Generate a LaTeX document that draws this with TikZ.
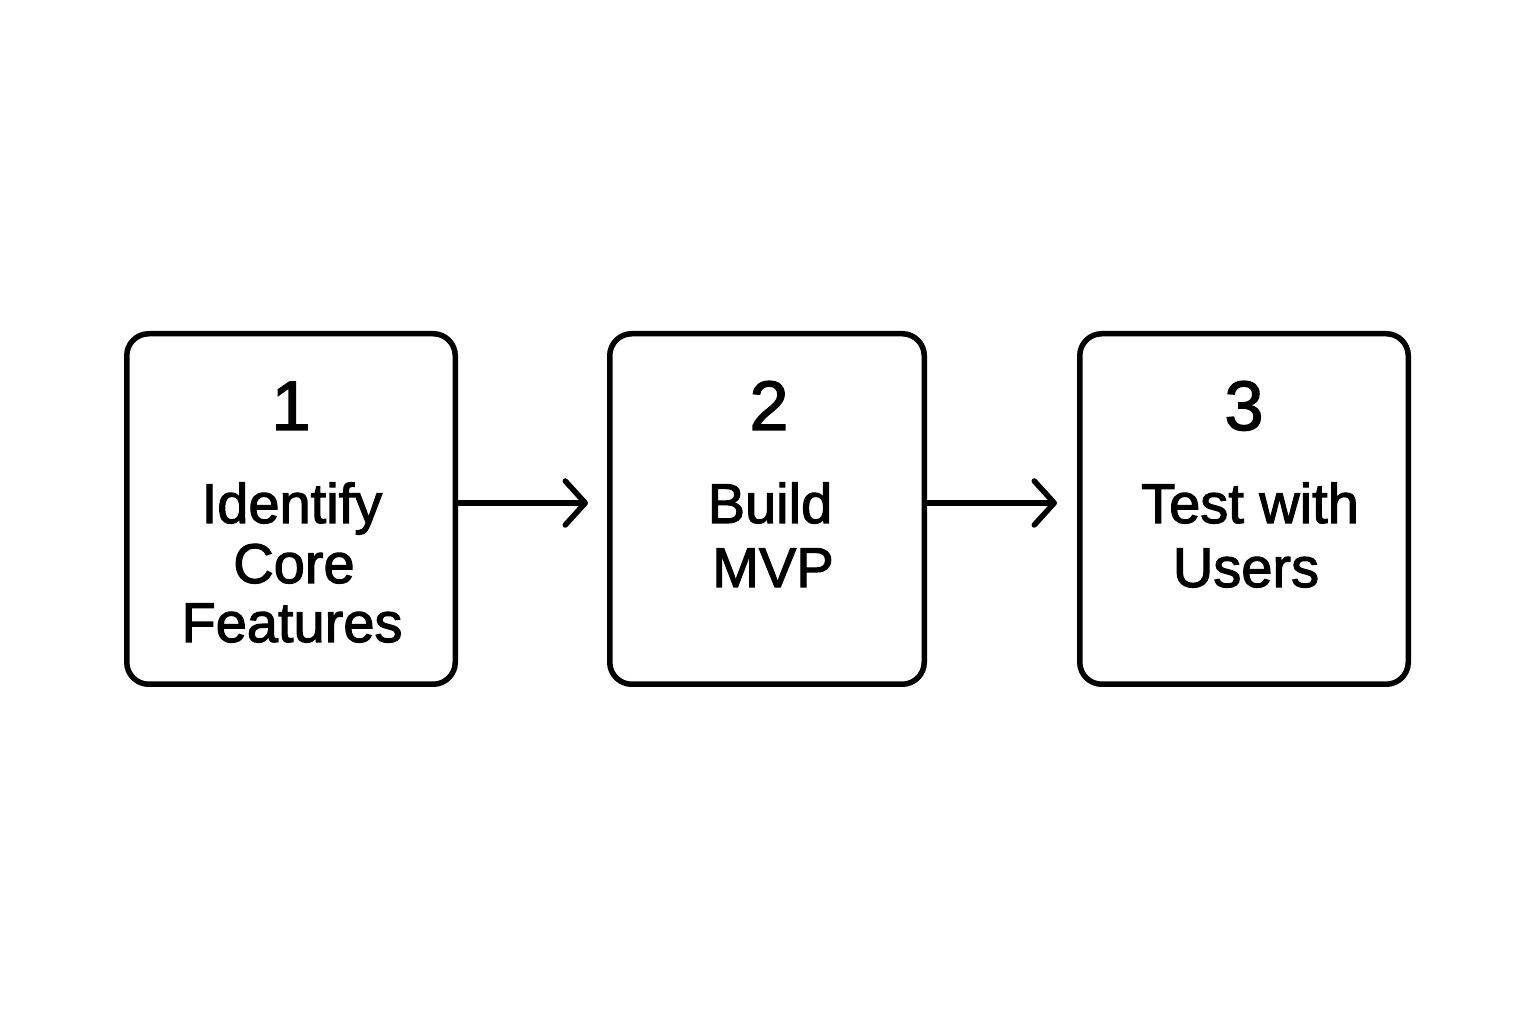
\documentclass[tikz,border=0pt]{standalone}
\usepackage{fontspec}
\setmainfont{Liberation Sans}
\newfontfamily\labfont{Liberation Sans}[FakeBold=2]
\usetikzlibrary{arrows.meta}
\begin{document}
\begin{tikzpicture}[x=1pt,y=1pt,
  stepbox/.style={draw=black, line width=5.5pt, rounded corners=22pt, inner sep=0pt, fill=white},
  numtxt/.style={anchor=base, inner sep=0pt, font=\labfont\fontsize{70}{70}\selectfont},
  labtxt/.style={anchor=base, inner sep=0pt, font=\labfont\fontsize{56}{60}\selectfont},
  flow/.style={line width=5.5pt, -{Straight Barb[length=20pt,width=44pt,line width=5.5pt,round]}}]
\useasboundingbox[fill=white] (0,0) rectangle (1536,1024);
% boxes
\node[stepbox, minimum width=328.5pt, minimum height=350.5pt] (b1) at (291,515) {};
\node[stepbox, minimum width=314.5pt, minimum height=350.5pt] (b2) at (767,515) {};
\node[stepbox, minimum width=328.5pt, minimum height=350.5pt] (b3) at (1244,515) {};
% numbers
\node[numtxt] (n1) at (291,594) {1};
\node[numtxt] (n2) at (769,594) {2};
\node[numtxt] (n3) at (1244,594) {3};
% labels
\node[labtxt] (l1a) at (292,501) {Identify};
\node[labtxt] (l1b) at (294,441) {Core};
\node[labtxt] (l1c) at (292,382) {Features};
\node[labtxt] (l2a) at (770,501) {Build};
\node[labtxt] (l2b) at (773,437) {MVP};
\node[labtxt] (l3a) at (1250,501) {Test with};
\node[labtxt] (l3b) at (1246,437) {Users};
% arrows
\coordinate (a1) at (b1.east |- 0,521);
\coordinate (a2) at (b2.west |- 0,521);
\coordinate (a3) at (b2.east |- 0,521);
\coordinate (a4) at (b3.west |- 0,521);
\draw[flow, shorten >=19pt] (a1) -- (a2);
\draw[flow, shorten >=20pt] (a3) -- (a4);
\end{tikzpicture}
\end{document}
